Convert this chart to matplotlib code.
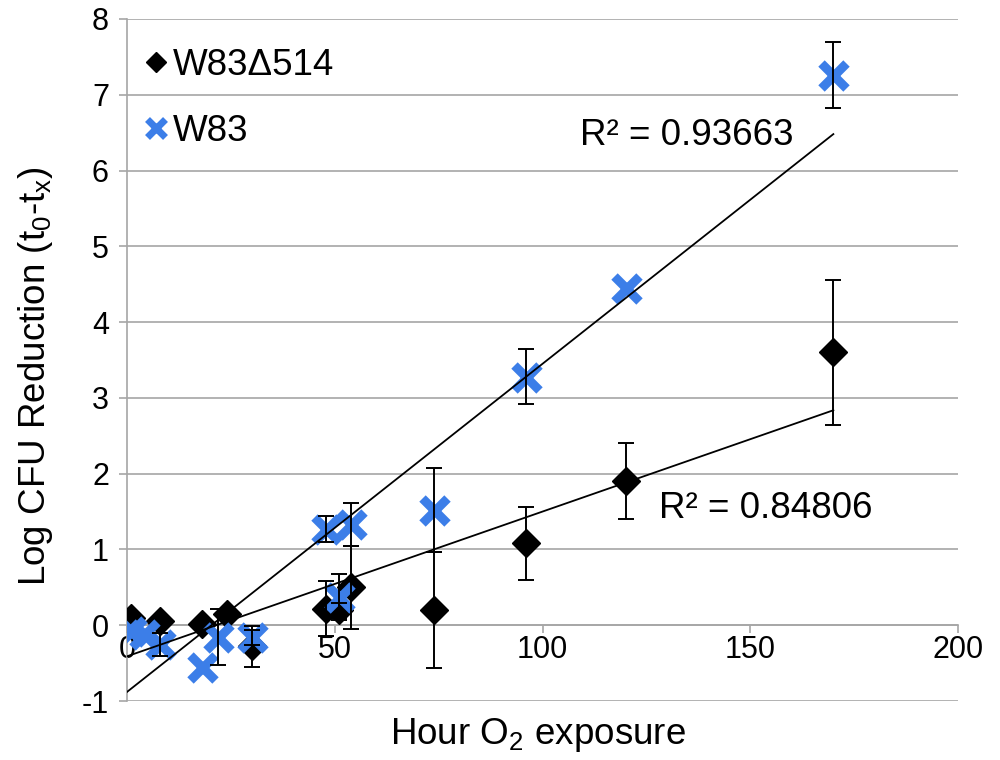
import numpy as np
import matplotlib
matplotlib.use("Agg")
import matplotlib.pyplot as plt
from matplotlib.lines import Line2D

plt.rcParams['font.family'] = ['Liberation Sans', 'DejaVu Sans']
plt.rcParams['mathtext.default'] = 'regular'
plt.rcParams['axes.unicode_minus'] = False

nan = float('nan')

# W83Δ514 (black diamonds)
hours_d = [1, 8, 18, 24, 30, 48, 51, 54, 74, 96, 120, 170]
logred_d = [0.10, 0.05, 0.02, 0.15, -0.28, 0.22, 0.20, 0.50, 0.20, 1.08, 1.90, 3.60]
err_d = [nan, nan, nan, nan, 0.27, 0.36, 0.10, 0.55, 0.76, 0.48, 0.50, 0.96]

# W83 (blue crosses)
hours_w = [1, 4, 8, 18, 22, 30, 48, 51, 54, 74, 96, 120, 170]
logred_w = [-0.07, -0.12, -0.25, -0.55, -0.16, -0.16, 1.27, 0.37, 1.33, 1.52, 3.28, 4.45, 7.26]
err_w = [nan, nan, 0.15, nan, 0.37, 0.10, 0.17, 0.30, 0.28, 0.56, 0.36, nan, 0.43]

# linear trendlines (slope, intercept) and R² as shown
fit_d = (0.0191, -0.41)
fit_w = (0.0433, -0.88)
r2_d = 0.84806
r2_w = 0.93663

blue = '#3c7ee8'
grey = '#a6a6a6'

fig = plt.figure(figsize=(10, 7.6), dpi=100)
ax = fig.add_axes([0.127, 0.0776, 0.831, 0.8974])

# markers
ax.plot(hours_d, logred_d, linestyle='none', marker='D', ms=14,
        color='black', zorder=3)
ax.plot(hours_w, logred_w, linestyle='none', marker='x', ms=18, mew=6.5,
        color=blue, zorder=3.5)

# error bars
ax.errorbar(hours_d, logred_d, yerr=err_d, fmt='none', ecolor='black',
            elinewidth=1.4, capsize=6, capthick=1.4, zorder=4)
ax.errorbar(hours_w, logred_w, yerr=err_w, fmt='none', ecolor='black',
            elinewidth=1.4, capsize=6, capthick=1.4, zorder=4)

# trendlines
for hrs, fit in [(hours_d, fit_d), (hours_w, fit_w)]:
    xs = np.array([0, max(hrs)])
    ax.plot(xs, fit[0] * xs + fit[1], color='black', lw=1.3, zorder=5)

ax.text(109, 6.46, f'R² = {r2_w:.5f}', fontsize=26.5, ha='left', va='center')
ax.text(128, 1.54, f'R² = {r2_d:.5f}', fontsize=26.5, ha='left', va='center')

# axes styling (Excel look)
ax.set_xlim(0, 200)
ax.set_ylim(-1, 8)
ax.set_xticks([0, 50, 100, 150, 200])
ax.set_yticks(range(-1, 9))
ax.yaxis.grid(True, color=grey, lw=1.2)
ax.set_axisbelow(True)
ax.spines['top'].set_visible(False)
ax.spines['right'].set_visible(False)
ax.spines['bottom'].set_position(('data', 0))
for s in ['left', 'bottom']:
    ax.spines[s].set_color(grey)
    ax.spines[s].set_linewidth(1.2)
ax.tick_params(axis='both', colors=grey, labelcolor='black', labelsize=22,
               length=6, width=1.2, direction='out')
ax.tick_params(axis='x', pad=1)
ax.tick_params(axis='y', pad=7)

fig.text(0.5375, 0.033, 'Hour O$_2$ exposure', fontsize=26.5, ha='center', va='center')
fig.text(0.036, 0.505, 'Log CFU Reduction (t$_0$-t$_x$)', fontsize=26.5,
         rotation=90, ha='center', va='center')

handles = [Line2D([], [], linestyle='none', marker='D', ms=10, color='black'),
           Line2D([], [], linestyle='none', marker='x', ms=13, mew=5, color=blue)]
ax.legend(handles, ['W83Δ514', 'W83'], loc='upper left', frameon=False,
          fontsize=26.5, handlelength=0.6, handletextpad=0.15, labelspacing=0.83,
          borderaxespad=0.1, borderpad=0.4, bbox_to_anchor=(0.0, 0.984))

fig.savefig('out.png', dpi=100)
